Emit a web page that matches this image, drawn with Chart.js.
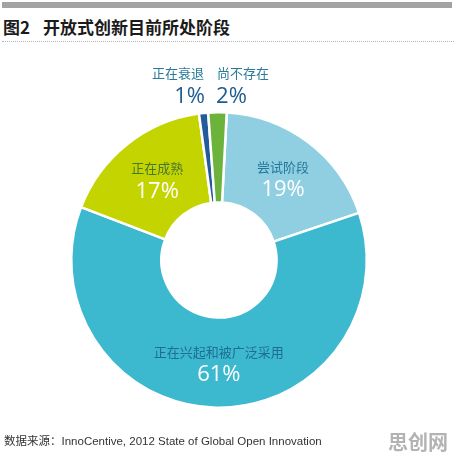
<!DOCTYPE html>
<html>
<head>
<meta charset="utf-8">
<script src="https://cdn.jsdelivr.net/npm/chart.js@4.4.0/dist/chart.umd.min.js"></script>
<style>
  body { margin: 0; background: #fff; }
  #wrap { position: relative; width: 456px; height: 456px; overflow: hidden; }
  #topbar { position: absolute; left: 2px; top: 2px; width: 450px; height: 6px; background: #a3a3a3; }
  #title { position: absolute; left: 3px; top: 14px; font-family: "Noto Sans CJK SC", sans-serif; font-weight: bold; font-size: 17px; color: #1b1b1b; white-space: nowrap; }
  #title span { margin-left: 13px; }
  #dots { position: absolute; left: 2px; top: 41px; width: 452px; border-top: 1px dotted #b5b5b5; }
  #barChart { position: absolute; left: 0; top: 0; }
  #source { position: absolute; left: 4px; top: 432px; font-family: "Liberation Sans", "Noto Sans CJK SC", sans-serif; font-size: 11.5px; color: #333; white-space: nowrap; }
  #mark { position: absolute; left: 388px; top: 427px; font-family: "Noto Sans CJK SC", sans-serif; font-weight: bold; font-size: 20px; color: #b3b3b3; }
</style>
</head>
<body>
<div id="wrap">
  <div id="topbar"></div>
  <div id="title">图2<span>开放式创新目前所处阶段</span></div>
  <div id="dots"></div>
  <canvas id="barChart" width="456" height="456"></canvas>
  <div id="source">数据来源：InnoCentive, 2012 State of Global Open Innovation</div>
  <div id="mark">思创网</div>
</div>
<script>
// stages, clockwise from 12 o'clock
const labels = ['尝试阶段', '正在兴起和被广泛采用', '正在成熟', '正在衰退', '尚不存在'];
const values = [19, 61, 17, 1, 2];
const colors = ['#90cfe1', '#3cb8cf', '#c4d400', '#235c9a', '#6bb33b'];
const nameColors = ['#23789d', '#1d6e92', '#47782a', '#2a7a9a', '#2a7a9a'];
const outside = [false, false, false, true, true];

// draws the names + percentages on/above the slices
const sliceLabels = {
  id: 'sliceLabels',
  afterDatasetsDraw(chart) {
    const ctx = chart.ctx;
    const arcs = chart.getDatasetMeta(0).data;
    ctx.save();
    ctx.textAlign = 'center';
    ctx.textBaseline = 'middle';
    arcs.forEach((arc, i) => {
      const pct = values[i] + '%';
      if (!outside[i]) {
        const p = arc.tooltipPosition();
        ctx.font = '13px "Noto Sans CJK SC", sans-serif';
        ctx.fillStyle = nameColors[i];
        ctx.fillText(labels[i], p.x + 2, p.y - 11);
        ctx.font = '22px "Open Sans", "Noto Sans", sans-serif';
        ctx.fillStyle = '#ffffff';
        ctx.fillText(pct, p.x + 2, p.y + 12);
      } else {
        const mid = (arc.startAngle + arc.endAngle) / 2;
        const ox = arc.x + Math.cos(mid) * arc.outerRadius;
        const top = arc.y - arc.outerRadius;
        // the last small slice goes to the right, the other to the left
        const side = i === arcs.length - 1 ? 1 : -1;
        ctx.font = '13px "Noto Sans CJK SC", sans-serif';
        ctx.fillStyle = nameColors[i];
        ctx.fillText(labels[i], ox + side * 25.5, top - 39);
        ctx.font = '22px "Open Sans", "Noto Sans", sans-serif';
        ctx.fillStyle = '#1f5b8f';
        ctx.fillText(pct, ox + side * 14, top - 16);
      }
    });
    ctx.restore();
  }
};

const ctxB = document.getElementById('barChart');
new Chart(ctxB, {
  type: 'doughnut',
  data: {
    labels: labels,
    datasets: [
      {
        data: values,
        backgroundColor: colors,
        borderColor: '#ffffff',
        borderWidth: 2.5,
      },
    ],
  },
  options: {
    responsive: false,
    animation: false,
    rotation: 3,
    cutout: '39%',
    layout: {
      padding: { left: 70, right: 88, top: 111, bottom: 47 },
    },
    plugins: {
      legend: { display: false },
      tooltip: { enabled: false },
    },
  },
  plugins: [sliceLabels],
});
</script>
</body>
</html>
